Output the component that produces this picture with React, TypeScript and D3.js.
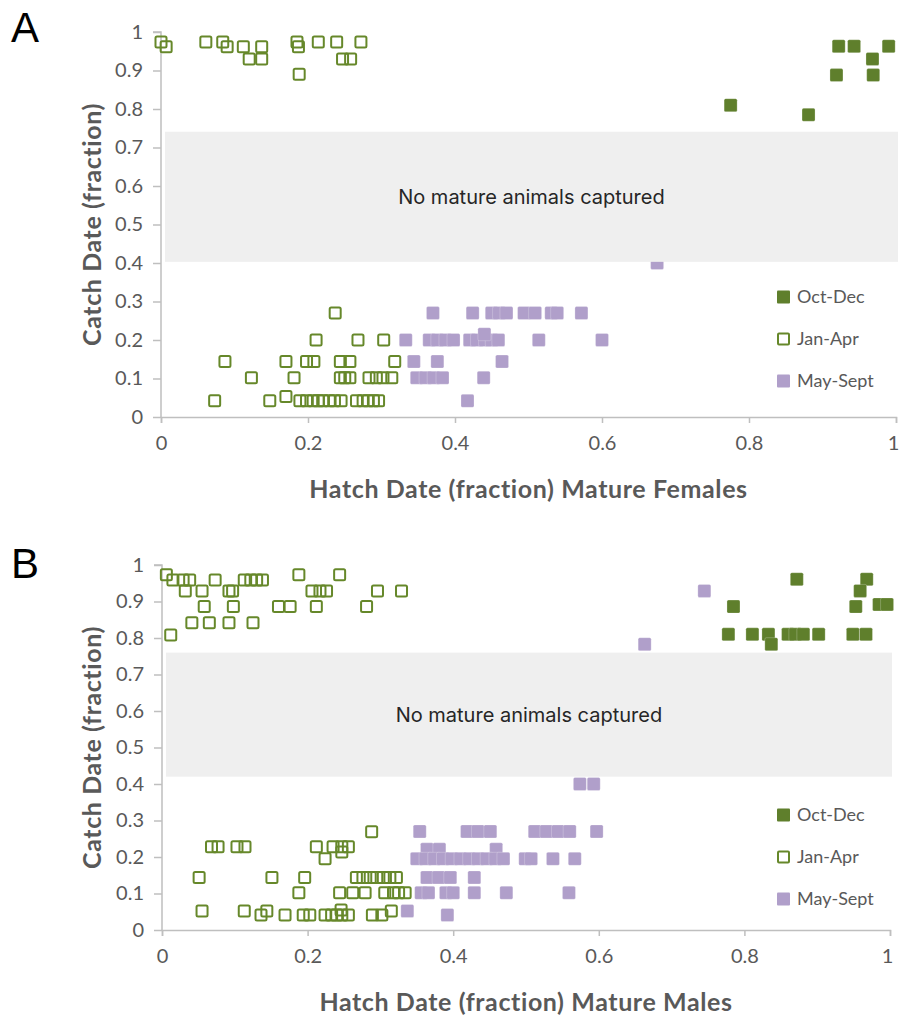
import React, { useEffect, useRef } from "react";
import * as d3 from "d3";

type Pt = [number, number]; // [hatch, catch]

const yTicks = [0, 0.1, 0.2, 0.3, 0.4, 0.5, 0.6, 0.7, 0.8, 0.9, 1];
const xTicks = [0, 0.2, 0.4, 0.6, 0.8, 1];
const seriesNames = ["Oct-Dec", "Jan-Apr", "May-Sept"];
const bandText = "No mature animals captured";
const yTitle = "Catch Date (fraction)";

// panel A - mature females
const femalesOctDec: Pt[] = [
  [0.775, 0.81], [0.881, 0.785], [0.919, 0.888], [0.922, 0.963], [0.943, 0.963],
  [0.968, 0.93], [0.969, 0.888], [0.99, 0.963],
];
const femalesJanApr: Pt[] = [
  [0.0, 0.974], [0.007, 0.962], [0.061, 0.974], [0.084, 0.974], [0.09, 0.962],
  [0.112, 0.962], [0.12, 0.93], [0.137, 0.962], [0.137, 0.93], [0.185, 0.974],
  [0.187, 0.962], [0.188, 0.89], [0.214, 0.974], [0.239, 0.974], [0.247, 0.93],
  [0.258, 0.93], [0.272, 0.974],
  [0.237, 0.27],
  [0.211, 0.2], [0.268, 0.2], [0.303, 0.2],
  [0.087, 0.144], [0.17, 0.144], [0.198, 0.144], [0.208, 0.144], [0.244, 0.144],
  [0.257, 0.144], [0.318, 0.144],
  [0.123, 0.102], [0.181, 0.102], [0.244, 0.102], [0.25, 0.102], [0.257, 0.102],
  [0.283, 0.102], [0.293, 0.102], [0.302, 0.102], [0.314, 0.102],
  [0.073, 0.042], [0.148, 0.042], [0.17, 0.053], [0.189, 0.042], [0.198, 0.042],
  [0.207, 0.042], [0.214, 0.042], [0.22, 0.042], [0.229, 0.042], [0.236, 0.042],
  [0.245, 0.042], [0.266, 0.042], [0.275, 0.042], [0.282, 0.042], [0.289, 0.042],
  [0.296, 0.042],
];
const femalesMaySept: Pt[] = [
  [0.37, 0.27], [0.424, 0.27], [0.45, 0.27], [0.46, 0.27], [0.47, 0.27],
  [0.494, 0.27], [0.509, 0.27], [0.531, 0.27], [0.539, 0.27], [0.572, 0.27],
  [0.333, 0.2], [0.365, 0.2], [0.376, 0.2], [0.387, 0.2], [0.398, 0.2],
  [0.42, 0.2], [0.43, 0.2], [0.441, 0.2], [0.45, 0.2], [0.459, 0.2],
  [0.44, 0.215], [0.514, 0.2], [0.6, 0.2],
  [0.344, 0.144], [0.376, 0.144], [0.464, 0.144],
  [0.348, 0.102], [0.36, 0.102], [0.371, 0.102], [0.383, 0.102], [0.439, 0.102],
  [0.417, 0.042],
  [0.675, 0.4],
];

// panel B - mature males
const malesOctDec: Pt[] = [
  [0.872, 0.961], [0.968, 0.961], [0.959, 0.929], [0.785, 0.886], [0.953, 0.886],
  [0.985, 0.892], [0.996, 0.892], [0.778, 0.81], [0.811, 0.81], [0.833, 0.81],
  [0.837, 0.783], [0.86, 0.81], [0.87, 0.81], [0.881, 0.81], [0.902, 0.81],
  [0.949, 0.81], [0.967, 0.81],
];
const malesJanApr: Pt[] = [
  [0.006, 0.973], [0.015, 0.959], [0.029, 0.959], [0.038, 0.959], [0.032, 0.929],
  [0.055, 0.929], [0.073, 0.959], [0.058, 0.886], [0.092, 0.929], [0.097, 0.929],
  [0.098, 0.886], [0.113, 0.959], [0.122, 0.959], [0.13, 0.959], [0.138, 0.959],
  [0.188, 0.973], [0.244, 0.973], [0.206, 0.929], [0.217, 0.929], [0.226, 0.929],
  [0.296, 0.929], [0.329, 0.929], [0.16, 0.886], [0.176, 0.886], [0.212, 0.886],
  [0.281, 0.886], [0.041, 0.842], [0.065, 0.842], [0.092, 0.842], [0.125, 0.842],
  [0.012, 0.808],
  [0.288, 0.269],
  [0.068, 0.228], [0.077, 0.228], [0.103, 0.228], [0.114, 0.228], [0.212, 0.228],
  [0.235, 0.228], [0.247, 0.228], [0.256, 0.228], [0.247, 0.214], [0.224, 0.195],
  [0.051, 0.144], [0.151, 0.144], [0.196, 0.144], [0.267, 0.144], [0.276, 0.144],
  [0.286, 0.144], [0.295, 0.144], [0.304, 0.144], [0.313, 0.144], [0.322, 0.144],
  [0.188, 0.102], [0.244, 0.102], [0.262, 0.102], [0.279, 0.102], [0.306, 0.102],
  [0.318, 0.102], [0.325, 0.102], [0.334, 0.102],
  [0.055, 0.052], [0.113, 0.052], [0.144, 0.052], [0.246, 0.055], [0.315, 0.052],
  [0.136, 0.041], [0.169, 0.041], [0.194, 0.041], [0.203, 0.041], [0.224, 0.041],
  [0.233, 0.041], [0.24, 0.041], [0.247, 0.041], [0.256, 0.041], [0.289, 0.041],
  [0.302, 0.041],
];
const malesMaySept: Pt[] = [
  [0.574, 0.4], [0.593, 0.4], [0.663, 0.783], [0.745, 0.929],
  [0.354, 0.27], [0.419, 0.27], [0.434, 0.27], [0.451, 0.27], [0.512, 0.27],
  [0.528, 0.27], [0.544, 0.27], [0.56, 0.27], [0.597, 0.27],
  [0.364, 0.221], [0.381, 0.221], [0.459, 0.221],
  [0.35, 0.195], [0.362, 0.195], [0.374, 0.195], [0.386, 0.195], [0.398, 0.195],
  [0.41, 0.195], [0.422, 0.195], [0.434, 0.195], [0.446, 0.195], [0.458, 0.195],
  [0.469, 0.195], [0.499, 0.195], [0.507, 0.195], [0.537, 0.195], [0.567, 0.195],
  [0.364, 0.144], [0.38, 0.144], [0.396, 0.144], [0.429, 0.144],
  [0.356, 0.102], [0.366, 0.102], [0.39, 0.102], [0.4, 0.102], [0.429, 0.102],
  [0.473, 0.102], [0.559, 0.102],
  [0.337, 0.052], [0.392, 0.041],
];

const femalesBand = [0.403, 0.741];
const malesBand = [0.42, 0.76];

const green = "#5f7f2c";
const greenLine = "#66882a";
const purple = "#b09fca";
const axisGrey = "#bfbfbf";
const textGrey = "#595959";
const font = "Lato, 'Open Sans', sans-serif";

interface PanelOpts {
  letter: string;
  top: number;
  xRange: [number, number];
  yRange: [number, number];
  band: number[];
  series: Pt[][];
  xTitle: string;
  legendY: number;
}

function drawPanel(svg: d3.Selection<SVGSVGElement, unknown, null, undefined>, o: PanelOpts) {
  const x = d3.scaleLinear().domain([0, 1]).range(o.xRange);
  const y = d3.scaleLinear().domain([0, 1]).range(o.yRange);
  const g = svg.append("g");

  g.append("text")
    .attr("x", 11)
    .attr("y", o.top + 42)
    .attr("font-family", "'Liberation Sans', Arial, sans-serif")
    .attr("font-size", 42)
    .attr("fill", "#000")
    .text(o.letter);

  // axes
  const yAxis = g
    .append("g")
    .attr("transform", `translate(${o.xRange[0]},0)`)
    .call(
      d3.axisLeft(y).tickValues(yTicks).tickSize(8).tickPadding(10)
        .tickFormat((d) => String(+(+d).toFixed(1)))
    );
  const xAxis = g
    .append("g")
    .attr("transform", `translate(0,${o.yRange[0]})`)
    .call(
      d3.axisBottom(x).tickValues(xTicks).tickSize(6).tickPadding(13)
        .tickFormat((d) => String(+(+d).toFixed(1)))
    );
  [yAxis, xAxis].forEach((a) => {
    a.select(".domain").attr("stroke", axisGrey).attr("stroke-width", 1.5);
    a.selectAll(".tick line").attr("stroke", axisGrey).attr("stroke-width", 1.5);
    a.selectAll(".tick text")
      .attr("fill", textGrey)
      .attr("font-family", font)
      .attr("font-size", 20);
  });
  yAxis.select(".domain").attr("d", `M-8,${o.yRange[1]}H0V${o.yRange[0]}`);
  xAxis.selectAll<SVGTextElement, number>(".tick text")
    .filter((d) => d === 1)
    .attr("dx", -3);

  // points
  const size = 13;
  o.series.forEach((pts, i) => {
    const sel = g
      .append("g")
      .selectAll("rect")
      .data(pts)
      .enter()
      .append("rect")
      .attr("rx", 1.5);
    if (i === 1) {
      sel
        .attr("x", (d) => x(d[0]) - (size - 2) / 2)
        .attr("y", (d) => y(d[1]) - (size - 2) / 2)
        .attr("width", size - 2)
        .attr("height", size - 2)
        .attr("fill", "none")
        .attr("stroke", greenLine)
        .attr("stroke-width", 2);
    } else {
      sel
        .attr("x", (d) => x(d[0]) - size / 2)
        .attr("y", (d) => y(d[1]) - size / 2)
        .attr("width", size)
        .attr("height", size)
        .attr("fill", i === 0 ? green : purple)
        .attr("stroke", "#fff")
        .attr("stroke-opacity", 0.4)
        .attr("stroke-width", 0.6);
    }
  });

  // band
  g.append("rect")
    .attr("x", x(0) + 4)
    .attr("y", y(o.band[1]))
    .attr("width", x(1) - x(0) - 2)
    .attr("height", y(o.band[0]) - y(o.band[1]))
    .attr("fill", "#efefef");
  g.append("text")
    .attr("x", x(0.504))
    .attr("y", y((o.band[0] + o.band[1]) / 2) + 7)
    .attr("text-anchor", "middle")
    .attr("font-family", "Inter, 'Noto Sans', sans-serif")
    .attr("font-size", 20)
    .attr("fill", "#262626")
    .text(bandText);

  // titles
  g.append("text")
    .attr("transform", `translate(101,${(o.yRange[0] + o.yRange[1]) / 2}) rotate(-90)`)
    .attr("text-anchor", "middle")
    .attr("font-family", font)
    .attr("font-weight", "bold")
    .attr("font-size", 25)
    .attr("letter-spacing", 0.6)
    .attr("fill", textGrey)
    .text(yTitle);
  g.append("text")
    .attr("x", (o.xRange[0] + o.xRange[1]) / 2)
    .attr("y", o.yRange[0] + 81)
    .attr("text-anchor", "middle")
    .attr("font-family", font)
    .attr("font-weight", "bold")
    .attr("font-size", 25)
    .attr("letter-spacing", 0.6)
    .attr("fill", textGrey)
    .text(o.xTitle);

  // legend
  seriesNames.forEach((name, i) => {
    const ly = o.legendY + i * 42;
    const r = g.append("rect").attr("rx", 1);
    if (i === 1) {
      r.attr("x", 778).attr("y", ly - 5.5).attr("width", 11).attr("height", 11)
        .attr("fill", "none").attr("stroke", greenLine).attr("stroke-width", 2);
    } else {
      r.attr("x", 777).attr("y", ly - 6.5).attr("width", 13).attr("height", 13)
        .attr("fill", i === 0 ? green : purple);
    }
    g.append("text")
      .attr("x", 797)
      .attr("y", ly + 6)
      .attr("font-family", font)
      .attr("font-size", 18)
      .attr("fill", textGrey)
      .text(name);
  });
}

const App = () => {
  const ref = useRef<SVGSVGElement>(null);

  useEffect(() => {
    const svg = d3.select(ref.current as SVGSVGElement);
    svg.selectAll("*").remove();
    drawPanel(svg, {
      letter: "A",
      top: 0,
      xRange: [161, 896],
      yRange: [417, 32],
      band: femalesBand,
      series: [femalesOctDec, femalesJanApr, femalesMaySept],
      xTitle: "Hatch Date (fraction) Mature Females",
      legendY: 297,
    });
    drawPanel(svg, {
      letter: "B",
      top: 536,
      xRange: [162, 890],
      yRange: [930, 565],
      band: malesBand,
      series: [malesOctDec, malesJanApr, malesMaySept],
      xTitle: "Hatch Date (fraction) Mature Males",
      legendY: 815,
    });
  }, []);

  return (
    <div>
      <style>{`body{margin:0;background:#fff}`}</style>
      <svg ref={ref} width={900} height={1015} style={{ display: "block" }}></svg>
    </div>
  );
};

export default App;
